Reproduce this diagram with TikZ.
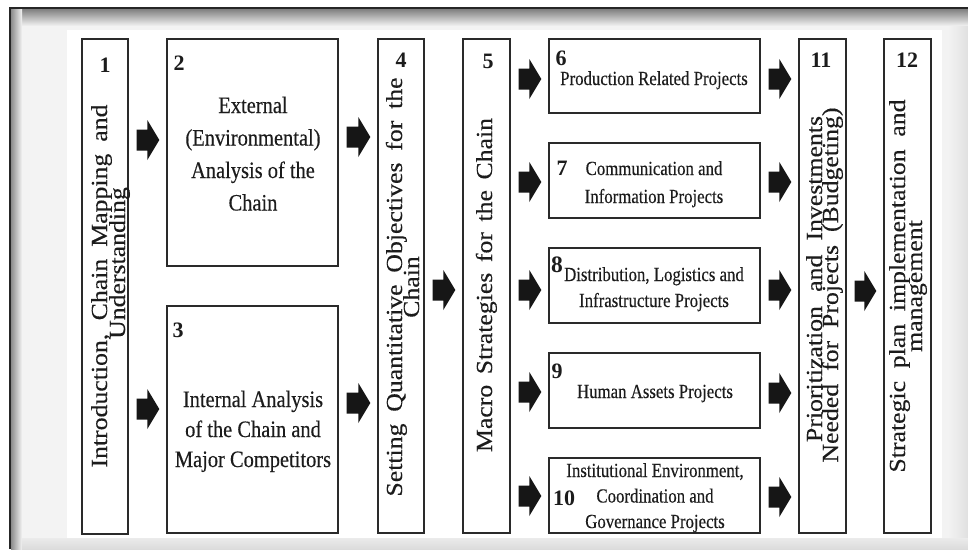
\documentclass[tikz,border=0pt]{standalone}
\usepackage{fontspec}
\setmainfont{Liberation Serif}
\newfontfamily\narrowserif[FakeStretch=0.87,FakeBold=0.3]{Liberation Serif}
\newfontfamily\projserif[FakeStretch=0.84,FakeBold=0.3]{Liberation Serif}
\newfontfamily\wideserif[FakeStretch=1.12,FakeBold=0.3]{Liberation Serif}
\usetikzlibrary{calc,fit}

\definecolor{boxc}{HTML}{2A2A2A}
\definecolor{txtc}{HTML}{1C1C1C}
\definecolor{arrowc}{HTML}{161616}
\definecolor{framebg}{HTML}{F3F3F3}

% one centred line of a given width
\newcommand\tline[2]{\hbox to #1{\hss#2\hss}}
% lines stacked at a fixed baseline distance; the baseline is that of the first line
\newcommand\stacklines[2]{\vtop{\baselineskip=#1\lineskiplimit=-100pt\lineskip=0pt\relax#2}}

% block arrow from the right side of one box to the left side of another, at height #4
\newcommand\blockarrow[4]{%
  \coordinate (#1) at (0,#4);
  \fill[arrowfill]
    ($(#2.east |- #1)+(8,-10.5)$) -- ($(#3.west |- #1)+(-19,-10.5)$) --
    ($(#3.west |- #1)+(-19,-20)$) -- ($(#3.west |- #1)+(-7,0)$) --
    ($(#3.west |- #1)+(-19,20)$) -- ($(#3.west |- #1)+(-19,10.5)$) --
    ($(#2.east |- #1)+(8,10.5)$) -- cycle;
}

\tikzset{
  cell/.style={draw=boxc, line width=1.4pt, inner sep=0pt, fill=white},
  num/.style={font=\fontsize{22}{24}\selectfont\bfseries, text=txtc, inner sep=0pt, anchor=base},
  htext/.style={font=\narrowserif\fontsize{23.5}{30}\selectfont, text=txtc, inner sep=0pt, anchor=base},
  ptext/.style={font=\projserif\fontsize{20}{26}\selectfont, text=txtc, inner sep=0pt, anchor=base},
  vtext/.style={font=\wideserif\fontsize{23}{18}\selectfont, text=txtc, inner sep=0pt, anchor=base, rotate=90},
  arrowfill/.style={fill=arrowc},
}

\begin{document}
\begin{tikzpicture}[x=1pt, y=-1pt]
\useasboundingbox (0,0) rectangle (968,549);
\fill[white] (0,0) rectangle (968,549);

% frame with inner shadow
\fill[framebg] (10,8) rectangle (968,549);
\fill[white] (67,30) rectangle (942,538);
\shade[top color=black!50, bottom color=framebg] (11,9) rectangle (968,26);
\shade[left color=black!45, right color=framebg] (11,9) rectangle (22,549);
\shade[left color=framebg, right color=black!12] (948,26) rectangle (968,549);
\shade[top color=black!8, bottom color=black!14] (22,538) rectangle (968,549);
\draw[line width=2.5pt, black!85] (10,549) -- (10,8) -- (968,8);

% boxes
\node[cell, fit={(82,39) (128,534)}] (b1) {};
\node[cell, fit={(167,39) (338,266)}] (b2) {};
\node[cell, fit={(167,306) (338,533)}] (b3) {};
\node[cell, fit={(378,39) (424,533)}] (b4) {};
\node[cell, fit={(463,39) (510,533)}] (b5) {};
\node[cell, fit={(549,39) (760,113)}] (b6) {};
\node[cell, fit={(549,143) (760,218)}] (b7) {};
\node[cell, fit={(549,248) (760,323)}] (b8) {};
\node[cell, fit={(549,353) (760,428)}] (b9) {};
\node[cell, fit={(549,458) (760,533)}] (b10) {};
\node[cell, fit={(799,39) (846,533)}] (b11) {};
\node[cell, fit={(884,39) (931,533)}] (b12) {};

% step numbers
\node[num] (n1) at (105,72) {1};
\node[num] (n2) at (179,70) {2};
\node[num] (n3) at (178,337) {3};
\node[num] (n4) at (401,67) {4};
\node[num] (n5) at (488,68) {5};
\node[num] (n6) at (561,65) {6};
\node[num] (n7) at (562,175) {7};
\node[num, font=\fontsize{23.5}{24}\selectfont\bfseries] (n8) at (557,272) {8};
\node[num] (n9) at (557,378) {9};
\node[num] (n10) at (564,505) {10};
\node[num] (n11) at (821,67) {11};
\node[num] (n12) at (907,67) {12};

% vertical captions
\node[vtext] (t1) at (107,286) {\stacklines{18pt}{%
  \tline{363pt}{\makebox[363pt][s]{Introduction, Chain Mapping and}}%
  \tline{363pt}{\hspace*{46pt}Understanding}}};
\node[vtext] (t4) at (402,287) {\stacklines{17pt}{%
  \tline{419pt}{\makebox[419pt][s]{Setting Quantitative Objectives for the}}%
  \tline{419pt}{Chain}}};
\node[vtext] (t5) at (492,285) {\makebox[334pt][s]{Macro Strategies for the Chain}};
\node[vtext] (t11) at (822,282) {\stacklines{16pt}{%
  \tline{360pt}{\hspace*{6pt}\makebox[326pt][s]{Prioritization and Investments}}%
  \tline{360pt}{\makebox[355pt][s]{Needed for Projects (Budgeting)}\hspace*{6pt}}}};
\node[vtext] (t12) at (905,286) {\stacklines{17pt}{%
  \tline{373pt}{\makebox[373pt][s]{Strategic plan implementation and}}%
  \tline{373pt}{management}}};

% horizontal captions
\node[htext] (t2) at (253,113) {\stacklines{32.5pt}{%
  \tline{170pt}{External}\tline{170pt}{(Environmental)}%
  \tline{170pt}{Analysis of the}\tline{170pt}{Chain}}};
\node[htext] (t3) at (253,407) {\stacklines{30pt}{%
  \tline{170pt}{Internal Analysis}\tline{170pt}{of the Chain and}%
  \tline{170pt}{Major Competitors}}};
\node[ptext] (t6) at (654,85) {Production Related Projects};
\node[ptext] (t7) at (654,175) {\stacklines{28pt}{%
  \tline{200pt}{Communication and}\tline{200pt}{Information Projects}}};
\node[ptext] (t8) at (654,281) {\stacklines{26pt}{%
  \tline{200pt}{Distribution, Logistics and}\tline{200pt}{Infrastructure Projects}}};
\node[ptext] (t9) at (655,398) {Human Assets Projects};
\node[ptext] (t10) at (655,477) {\stacklines{25.5pt}{%
  \tline{200pt}{Institutional Environment,}\tline{200pt}{Coordination and}%
  \tline{200pt}{Governance Projects}}};

% flow arrows
\blockarrow{y12}{b1}{b2}{140}
\blockarrow{y13}{b1}{b3}{409}
\blockarrow{y24}{b2}{b4}{137}
\blockarrow{y34}{b3}{b4}{403}
\blockarrow{y45}{b4}{b5}{290}
\blockarrow{y56}{b5}{b6}{79}
\blockarrow{y57}{b5}{b7}{182}
\blockarrow{y58}{b5}{b8}{290}
\blockarrow{y59}{b5}{b9}{392}
\blockarrow{y510}{b5}{b10}{496}
\blockarrow{y611}{b6}{b11}{79}
\blockarrow{y711}{b7}{b11}{182}
\blockarrow{y811}{b8}{b11}{290}
\blockarrow{y911}{b9}{b11}{393}
\blockarrow{y1011}{b10}{b11}{497}
\blockarrow{y1112}{b11}{b12}{291}
\end{tikzpicture}
\end{document}
